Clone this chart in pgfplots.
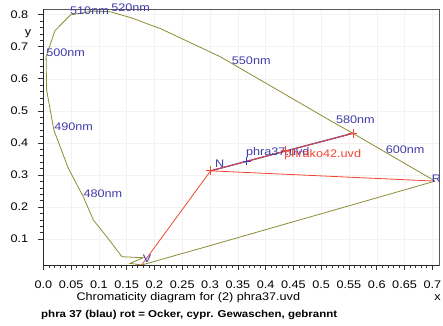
\documentclass[border=0pt]{standalone}
\usepackage{fontspec}
\setmainfont{Liberation Sans}[FakeStretch=1.15]
\usepackage{pgfplots}
\pgfplotsset{compat=1.18}
\definecolor{locus}{RGB}{140,140,50}
\definecolor{lblue}{RGB}{65,60,170}
\definecolor{lred}{RGB}{240,70,50}
\begin{document}
\fontsize{11}{13}\selectfont
\begin{tikzpicture}[x=1pt,y=1pt]
\useasboundingbox (-43.3,-60) rectangle (399.7,265);
\begin{axis}[
  name=ax,
  at={(0,0)}, anchor=south west,
  scale only axis, width=395.7pt, height=255.7pt,
  xmin=0, xmax=0.712, ymin=0.0195, ymax=0.8165,
  clip=false,
  axis line style={draw=gray!70!black, line width=0.8pt},
  xtick={0,0.05,0.1,0.15,0.2,0.25,0.3,0.35,0.4,0.45,0.5,0.55,0.6,0.65,0.7},
  xticklabels={0.0,0.05,0.1,0.15,0.2,0.25,0.3,0.35,0.4,0.45,0.5,0.55,0.6,0.65,0.7},
  ytick={0.1,0.2,0.3,0.4,0.5,0.6,0.7,0.8},
  yticklabels={0.1,0.2,0.3,0.4,0.5,0.6,0.7,0.8},
  minor x tick num=4, minor y tick num=4,
  xtick pos=left, ytick pos=left,
  tick align=outside,
  major tick length=5pt, minor tick length=3pt,
  every tick/.style={black!80, line width=0.6pt},
  grid=major, major grid style={gray!10, line width=0.4pt},
  xticklabel style={anchor=base, inner sep=0pt, yshift=-18pt, font=\fontsize{11}{13}\selectfont},
  yticklabel style={anchor=east, inner sep=0pt, xshift=-10pt, font=\fontsize{11}{13}\selectfont},
]
\addplot[locus, line width=0.8pt] coordinates {
(0.705,0.281) (0.557,0.430) (0.516,0.470) (0.339,0.648) (0.318,0.669)
(0.21,0.757) (0.192,0.768) (0.162,0.788) (0.120,0.809) (0.09,0.811)
(0.049,0.799) (0.021,0.750) (0.005,0.669) (0.006,0.565) (0.019,0.440)
(0.045,0.321) (0.072,0.232) (0.090,0.160) (0.114,0.108) (0.1416,0.0453)
(0.180,0.0422) (0.156,0.0247) (0.177,0.0195) (0.282,0.071) (0.705,0.281)
};
\addplot[lblue, line width=1.3pt] coordinates {(0.301,0.313) (0.557,0.430)};
\addplot[lred, line width=0.8pt] coordinates {(0.177,0.0195) (0.301,0.313) (0.705,0.281)};
\addplot[lred, line width=0.8pt] coordinates {(0.301,0.313) (0.557,0.430)};
\addplot[lblue, only marks, mark=+, mark size=4pt, mark options={line width=0.7pt}] coordinates {(0.366,0.344)};
\addplot[lred, only marks, mark=+, mark size=4.5pt, mark options={line width=0.7pt}] coordinates {(0.301,0.313) (0.435,0.376) (0.557,0.430)};
\begin{scope}[every node/.style={anchor=base west, inner sep=0pt, text=lblue}]
\node at (axis cs:0.048,0.799) {510nm};
\node at (axis cs:0.122,0.809) {520nm};
\node at (axis cs:0.005,0.669) {500nm};
\node at (axis cs:0.0194,0.440) {490nm};
\node at (axis cs:0.072,0.231) {480nm};
\node at (axis cs:0.339,0.646) {550nm};
\node at (axis cs:0.5265,0.459) {580nm};
\node at (axis cs:0.616,0.3686) {600nm};
\node at (axis cs:0.699,0.278) {R};
\node at (axis cs:0.309,0.324) {N};
\node at (axis cs:0.179,0.028) {V};
\node at (axis cs:0.3646,0.362) {phra37.uvd};
\node[text=lred] at (axis cs:0.4335,0.355) {phrako42.uvd};
\end{scope}
\end{axis}
\draw[black!85, line width=0.8pt] (ax.north west) -- (ax.south west) -- (ax.south east);
\node[anchor=base, inner sep=0pt] at (145,-35) {Chromaticity diagram for (2) phra37.uvd};
\node[anchor=base, inner sep=0pt] at (394.2,-35) {x};
\node[anchor=base, inner sep=0pt] at (-15.3,230) {y};
\node[anchor=base west, inner sep=0pt, font=\bfseries\fontsize{10}{12}\selectfont] at (-2.3,-52.5) {phra 37 (blau) rot = Ocker, cypr. Gewaschen, gebrannt};
\end{tikzpicture}
\end{document}
